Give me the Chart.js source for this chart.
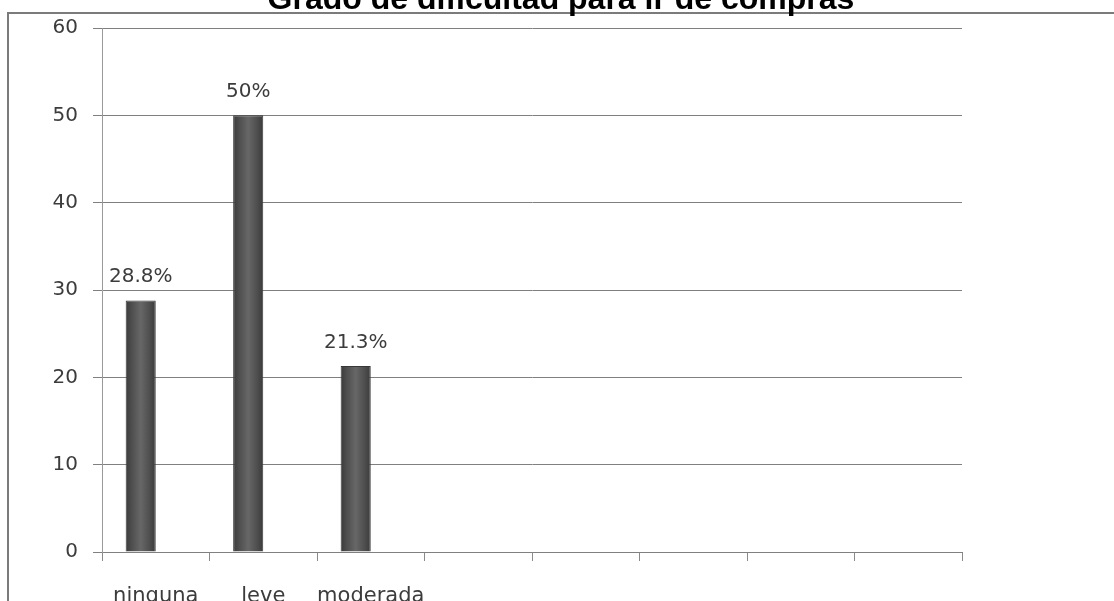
<!DOCTYPE html>
<html lang="es">
<head>
<meta charset="UTF-8">
<title>Grado de dificultad para ir de compras</title>
<script src="https://cdn.jsdelivr.net/npm/chart.js"></script>
<style>
  body { margin: 0; background: #fff; }
  #wrap { width: 1114px; height: 601px; position: relative; }
</style>
</head>
<body>
<div id="wrap"><canvas id="grado"></canvas></div>
<script>
  const titulo = 'Grado de dificultad para ir de compras';
  const categorias = ['ninguna', 'leve', 'moderada', '', '', '', '', ''];
  const porcentajes = [28.8, 50, 21.3, null, null, null, null, null];
  // second column of the sheet, left empty
  const serieVacia = [null, null, null, null, null, null, null, null];
  const ticksY = [0, 10, 20, 30, 40, 50, 60];

  const fuenteY = { family: '"DejaVu Sans", sans-serif', size: 20 };
  const fuenteX = { family: '"DejaVu Sans", sans-serif', size: 21 };
  const gris = '#3c3c3c';

  // outer frame + title clipped at the top
  const marco = {
    id: 'marco',
    beforeDraw(chart) {
      const c = chart.ctx;
      c.save();
      c.strokeStyle = '#7b7b7b';
      c.lineWidth = 2;
      c.strokeRect(8, 13, chart.width + 20, chart.height + 20);
      c.restore();
    },
    afterDraw(chart) {
      const c = chart.ctx;
      c.save();
      c.font = 'bold 32px "Liberation Sans", Arial, sans-serif';
      c.fillStyle = '#000';
      c.textAlign = 'center';
      c.textBaseline = 'alphabetic';
      c.fillText(titulo, chart.width / 2 + 4, 9);
      c.restore();
    }
  };

  // darker edges, lighter middle on each bar, then the value labels
  const sombreado = {
    id: 'sombreado',
    beforeDatasetsDraw(chart) {
      const c = chart.ctx;
      chart.getDatasetMeta(0).data.forEach((bar, i) => {
        if (porcentajes[i] == null || !isFinite(bar.x) || !isFinite(bar.width)) return;
        const l = bar.x - bar.width / 2, r = bar.x + bar.width / 2;
        const g = c.createLinearGradient(l, 0, r, 0);
        g.addColorStop(0, '#3a3a3a');
        g.addColorStop(0.2, '#4e4e4e');
        g.addColorStop(0.5, '#676767');
        g.addColorStop(0.8, '#4e4e4e');
        g.addColorStop(1, '#3a3a3a');
        bar.options.backgroundColor = g;
      });
    },
    afterDatasetsDraw(chart) {
      const c = chart.ctx;
      c.save();
      c.font = '20px "DejaVu Sans", sans-serif';
      c.fillStyle = gris;
      c.textAlign = 'center';
      c.textBaseline = 'alphabetic';
      chart.getDatasetMeta(0).data.forEach((bar, i) => {
        if (porcentajes[i] == null) return;
        c.fillText(porcentajes[i] + '%', bar.x, bar.y - 18);
      });
      c.restore();
    }
  };

  new Chart(document.getElementById('grado'), {
    type: 'bar',
    data: {
      labels: categorias,
      datasets: [
        {
          data: porcentajes,
          backgroundColor: () => '#555555',
          borderColor: '#383838',
          borderWidth: 1
        },
        {
          data: serieVacia,
          backgroundColor: '#555555'
        }
      ]
    },
    options: {
      responsive: true,
      maintainAspectRatio: false,
      animation: false,
      layout: { padding: { top: 28, right: 152, left: 0, bottom: 0 } },
      datasets: { bar: { categoryPercentage: 0.56, barPercentage: 1 } },
      plugins: {
        legend: { display: false },
        tooltip: { enabled: false },
        title: { display: false }
      },
      scales: {
        x: {
          offset: true,
          grid: { display: true, drawOnChartArea: false, offset: true, tickLength: 9, color: '#8a8a8a' },
          border: { display: true, color: '#808080' },
          ticks: { font: fuenteX, color: gris, padding: 23, maxRotation: 0, autoSkip: false },
          afterFit(s) { s.height = 49; }
        },
        y: {
          min: 0,
          max: 60,
          afterBuildTicks(s) { s.ticks = ticksY.map(v => ({ value: v })); },
          grid: { color: '#808080', tickLength: 9 },
          border: { color: '#999999' },
          ticks: { font: fuenteY, color: gris, padding: 15 },
          afterFit(s) { s.width = 102; }
        }
      }
    },
    plugins: [marco, sombreado]
  });
</script>
</body>
</html>
